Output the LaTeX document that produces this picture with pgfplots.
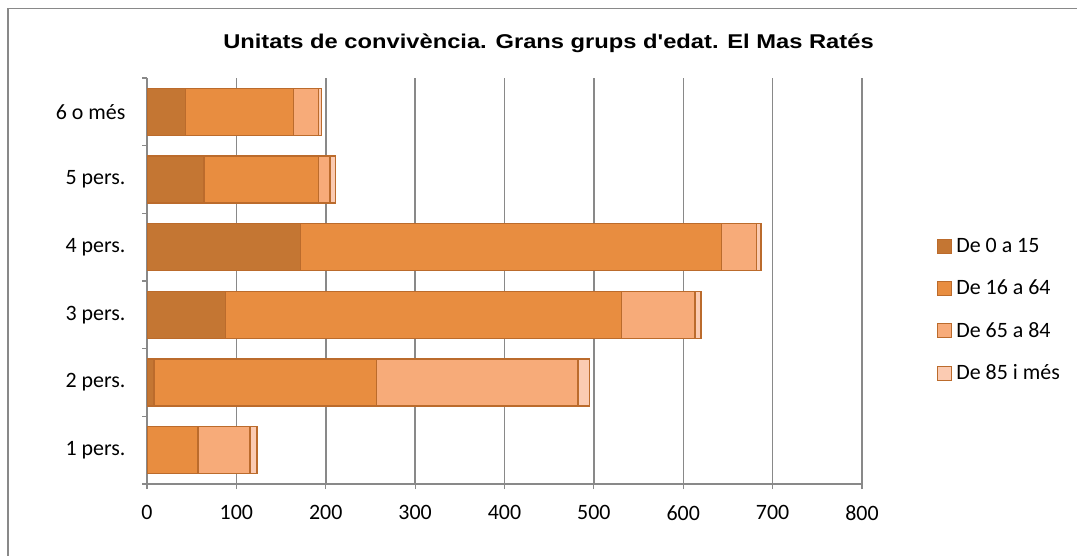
\documentclass[border=0pt]{standalone}
\usepackage{pgfplots}
\usepackage{pgfplotstable}
\usepackage{graphicx}
\pgfplotsset{compat=1.18}
\usepackage{fontspec}
\setmainfont{Carlito}
\newfontfamily\titlefont{Liberation Sans}
\definecolor{cA}{HTML}{C47633}
\definecolor{cB}{HTML}{E88D40}
\definecolor{cC}{HTML}{F7AB79}
\definecolor{cD}{HTML}{FBCBB2}
\definecolor{bord}{HTML}{BB6B2C}
\definecolor{gridc}{HTML}{898989}
\pgfplotstableread{
y a b c d
0 0 57 58 8
1 8 249 225 13
2 88 443 82 7
3 172 471 39 5
4 64 128 13 6
5 43 121 28 3
}\data
\begin{document}
\begin{tikzpicture}
\useasboundingbox (0,0) rectangle (1077bp,556bp);
\fill[white] (0,0) rectangle (1077bp,556bp);
\draw[gridc, line width=1.2bp] (8bp,0bp) -- (8bp,547.3bp) -- (1077bp,547.3bp);
\node[anchor=base, font=\titlefont\bfseries\fontsize{20}{24}\selectfont] at (548.5bp,507.7bp) {\scalebox{1.19}[1]{Unitats de convivència. Grans grups d'edat. El Mas Ratés}};
\begin{axis}[
  at={(147bp,72bp)}, anchor=south west,
  scale only axis, width=715bp, height=406bp,
  xbar stacked, bar width=47bp,
  xmin=0, xmax=800, xtick={0,100,...,800},
  ymin=-0.5, ymax=5.5,
  ytick={0,...,5},
  yticklabels={1 pers.,2 pers.,3 pers.,4 pers.,5 pers.,6 o més},
  minor ytick={-0.5,0.5,...,5.5},
  tick align=outside, major tick length=5bp, minor tick length=5bp,
  major y tick style={draw=none},
  minor y tick style={gridc, line width=1.2bp},
  major x tick style={gridc, line width=1.2bp},
  axis x line*=bottom, axis y line*=left,
  axis line style={gridc, line width=1.2bp, -},
  xmajorgrids, major grid style={gridc, line width=1.5bp},
  /pgf/number format/assume math mode=true,
  tick label style={font=\fontsize{22}{26}\selectfont},
  xticklabel style={yshift=-13bp},
  yticklabel style={xshift=-13bp},
  every axis plot/.append style={draw=bord, line width=1.5bp},
  legend style={at={(1.100,0.4286)}, anchor=west, draw=none, fill=none,
    font=\fontsize{22}{26}\selectfont, row sep=22bp,
    cells={anchor=west}},
  legend image code/.code={\draw[#1, line width=1.3bp] (0bp,-7bp) rectangle (14bp,7bp); \path[draw=none, fill=none] (0bp,0bp) -- (17bp,0bp);},
]
\addplot[fill=cA, draw=bord] table[x=a, y=y] {\data};
\addplot[fill=cB, draw=bord] table[x=b, y=y] {\data};
\addplot[fill=cC, draw=bord] table[x=c, y=y] {\data};
\addplot[fill=cD, draw=bord] table[x=d, y=y] {\data};
\legend{De 0 a 15,De 16 a 64,De 65 a 84,De 85 i més}
\end{axis}
\end{tikzpicture}
\end{document}
